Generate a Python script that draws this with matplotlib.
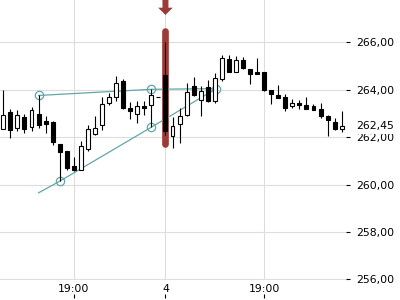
import numpy as np
import matplotlib
matplotlib.use("Agg")
import matplotlib.pyplot as plt

# candle data (one entry per bar, left to right)
opens = [262.35, 263.06, 262.39, 262.85, 262.43, 262.99, 262.69, 262.62, 261.73, 261.43,
         260.77, 260.63, 261.50, 262.15, 262.50, 263.44, 263.69, 264.39, 263.25, 262.98,
         263.33, 263.37, 263.69, 264.63, 262.03, 262.56, 262.93, 264.14, 263.58, 264.10,
         263.54, 264.45, 265.31, 264.75, 265.26, 264.87, 264.73, 264.73, 264.00, 263.76,
         263.69, 263.30, 263.44, 263.37, 263.33, 263.20, 262.88, 262.64, 262.35]
highs = [263.97, 263.20, 263.13, 262.99, 263.27, 263.76, 262.88, 262.67, 261.73, 261.43,
         261.17, 261.82, 262.53, 262.88, 263.69, 263.86, 264.60, 264.46, 263.48, 263.51,
         263.51, 264.02, 263.69, 266.03, 262.85, 263.23, 264.29, 264.53, 264.14, 264.42,
         264.70, 265.47, 265.47, 265.43, 265.40, 264.87, 265.33, 264.77, 264.00, 264.21,
         263.82, 263.62, 263.58, 263.69, 263.40, 263.44, 262.92, 262.81, 263.12]
lows = [262.35, 261.97, 262.24, 262.18, 262.24, 262.39, 262.18, 261.68, 260.14, 260.63,
        260.56, 260.60, 261.40, 262.11, 262.32, 263.37, 263.51, 263.19, 262.77, 262.60,
        262.95, 262.42, 263.69, 262.10, 261.55, 261.76, 262.88, 263.72, 262.88, 263.47,
        263.44, 264.35, 264.76, 264.75, 264.88, 264.24, 264.66, 263.93, 263.40, 263.65,
        263.12, 263.23, 263.19, 263.20, 263.13, 262.81, 262.06, 262.32, 262.20]
closes = [262.95, 262.32, 262.95, 262.35, 263.13, 262.50, 262.56, 261.78, 261.38, 260.70,
          260.60, 261.61, 262.35, 262.39, 263.41, 263.69, 264.28, 263.23, 263.09, 263.30,
          263.24, 263.77, 263.69, 262.24, 262.45, 262.88, 263.89, 263.76, 263.93, 263.51,
          264.49, 265.33, 264.77, 265.26, 264.91, 264.66, 264.66, 263.97, 263.82, 263.65,
          263.25, 263.44, 263.34, 263.20, 263.16, 262.88, 262.71, 262.35, 262.45]

xtick_pos = [10, 23, 37]
xtick_labels = ["19:00", "4", "19:00"]
yticks = [256, 258, 260, 262, 264, 266]

# triangle pattern drawn on the chart
upper_x = [5, 21, 30.2]
upper_y = [263.76, 264.02, 264.05]
lower_x = [5, 8, 21, 30.2]
lower_y = [259.65, 260.14, 262.42, 264.05]
pivot_x = [5, 21, 8, 21, 30.2]
pivot_y = [263.76, 264.02, 260.14, 262.42, 264.05]

# highlighted candle
hl_idx = 23
hl_top, hl_bottom = 266.48, 261.72
last_price = closes[-1]

red = "#9b3a36"
teal = "#62a6aa"

fig = plt.figure(figsize=(4, 3), dpi=100)
ax = fig.add_axes([0, 20 / 300, 345.5 / 400, 280 / 300])

x = np.arange(len(opens))
o = np.array(opens); c = np.array(closes)
up = c >= o

ax.grid(True, color="#dddddd", linewidth=0.8)
ax.set_axisbelow(True)

# highlight bar + arrow
ax.plot([hl_idx, hl_idx], [hl_bottom, hl_top], color=red, linewidth=4.8,
        solid_capstyle="round", zorder=2)
ax.annotate("", xy=(hl_idx, 267.16), xytext=(hl_idx, 268.4),
            arrowprops=dict(facecolor=red, edgecolor="none", width=4.3,
                            headwidth=10.5, headlength=5.2, shrink=0),
            annotation_clip=False, zorder=2)

# pattern lines
ax.plot(upper_x, upper_y, color=teal, linewidth=0.9, zorder=2)
ax.plot(lower_x, lower_y, color=teal, linewidth=0.9, zorder=2)
ax.plot(pivot_x, pivot_y, linestyle="none", marker="o", markersize=6,
        markerfacecolor="none", markeredgecolor=teal, markeredgewidth=0.9, zorder=2)

# candles
ax.vlines(x, lows, highs, color="black", linewidth=0.8, zorder=3)
body_bottom = np.minimum(o, c)
body_height = np.abs(c - o)
ax.bar(x[up], body_height[up], bottom=body_bottom[up], width=0.56,
       facecolor="white", edgecolor="black", linewidth=0.8, zorder=4)
ax.bar(x[~up], body_height[~up], bottom=body_bottom[~up], width=0.56,
       facecolor="black", edgecolor="black", linewidth=0.8, zorder=4)

ax.set_xlim(-0.47, 48.54)
ax.set_ylim(255.97, 267.79)

for s in ax.spines.values():
    s.set_visible(False)

ax.set_xticks(xtick_pos)
ax.set_xticklabels(xtick_labels)
ax.tick_params(axis="x", length=0, pad=3, labelsize=7.8)

ax.yaxis.tick_right()
ax.set_yticks(yticks)
ax.set_yticklabels([f"{v:.2f}".replace(".", ",") for v in yticks])
ax.tick_params(axis="y", direction="out", length=3, width=0.8, pad=4.5,
               labelsize=7.8, colors="black")

# small tick marks under the time labels
sec = ax.secondary_xaxis(-0.05)
sec.set_xticks(xtick_pos)
sec.set_xticklabels([])
sec.tick_params(length=3, width=0.8, direction="out")
sec.spines["bottom"].set_visible(False)

# last price label
ax.text(356 / 345.5, last_price, f"{last_price:.2f}".replace(".", ","),
        transform=ax.get_yaxis_transform(), ha="left", va="center", fontsize=7.8,
        bbox=dict(facecolor="white", edgecolor="none", pad=1.5), zorder=10)

fig.savefig("out.png", dpi=100)
